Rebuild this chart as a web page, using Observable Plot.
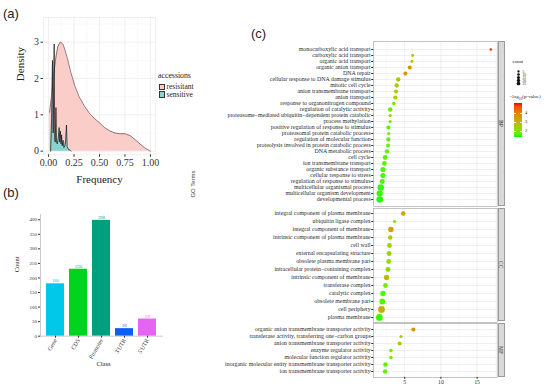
<!DOCTYPE html>
<html><head><meta charset="utf-8">
<script src="https://cdn.jsdelivr.net/npm/d3@7"></script>
<script src="https://cdn.jsdelivr.net/npm/@observablehq/plot@0.6"></script>
<style>
body{margin:0;background:#fff;}
#fig{position:relative;width:550px;height:387px;overflow:hidden;font-family:"Liberation Serif",serif;color:#333;}
#fig svg text{font-family:"Liberation Serif",serif;}
.abs{position:absolute;}
.plab{position:absolute;font-family:"Liberation Sans",Arial,sans-serif;font-size:13px;color:#222;line-height:1;}
.strip{position:absolute;background:#d9d9d9;border:0.6px solid #9a9a9a;box-sizing:border-box;display:flex;align-items:center;justify-content:center;}
.strip span{writing-mode:vertical-rl;font-size:5.5px;color:#222;font-family:"Liberation Serif",serif;}
</style></head><body><div id="fig"></div>
<script>
// ---------- Panel (a) data ----------
const freqResistant = [0.01,0.03,0.05,0.07,0.09,0.11,0.12,0.14,0.16,0.19,0.22,0.26,0.30,0.35,0.40,0.45,0.50,0.55,0.60,0.65,0.70,0.75,0.80,0.85,0.90,0.95,1.00];
const densResistant = [1.07,1.55,2.1,2.55,2.87,2.99,3.0,2.95,2.8,2.5,2.15,1.78,1.5,1.25,1.05,0.9,0.78,0.65,0.56,0.5,0.48,0.48,0.43,0.32,0.19,0.08,0.0];
const freqSensitive = [0.020,0.030,0.038,0.045,0.050,0.055,0.060,0.066,0.072,0.078,0.085,0.095,0.104,0.110,0.116,0.122,0.128,0.134,0.142,0.150,0.160,0.168,0.176,0.182,0.195,0.210,0.220];
const densSensitive = [0.00,0.9,2.5,0.5,1.6,2.95,0.3,0.25,1.2,0.25,0.2,0.35,0.65,0.25,0.55,0.2,0.45,0.15,0.3,0.1,0.15,0.3,0.72,0.12,0.05,0.03,0.0];
const accessions = ["resisitant","sensitive"];
const aTicksX = [0,0.25,0.5,0.75,1];
const aTicksY = [0,1,2,3];

// ---------- Panel (b) data ----------
const classes = ["Gene","CDS","Promoter","3'UTR","5'UTR"];
const classCounts = [180,230,398,26,59];
const bTicks = [0,50,100,150,200,250,300,350,400];

// ---------- Panel (c) data ----------
const bpTerms = ["monocarboxylic acid transport","carboxylic acid transport","organic acid transport","organic anion transport","DNA repair","cellular response to DNA damage stimulus","mitotic cell cycle","anion transmembrane transport","anion transport","response to organonitrogen compound","regulation of catalytic activity","proteasome−mediated ubiquitin−dependent protein catabolic","process methylation","positive regulation of response to stimulus","proteasomal protein catabolic process","regulation of molecular function","proteolysis involved in protein catabolic process","DNA metabolic process","cell cycle","ion transmembrane transport","organic substance transport","cellular response to stress","regulation of response to stimulus","multicellular organismal process","multicellular organism development","developmental process"];
const bpX = [16.9,6.1,6.0,5.7,5.1,4.1,3.9,3.8,3.7,3.5,3.0,3.0,3.0,2.75,2.8,2.75,2.7,2.55,2.3,2.2,2.0,2.0,1.9,1.7,1.55,1.55];
const bpLogP = [5.0,2.9,2.9,3.8,3.6,2.8,2.5,2.5,2.6,1.9,1.8,1.9,1.9,1.7,2.0,1.8,1.8,1.7,1.7,1.7,1.6,1.6,1.6,1.5,1.5,1.45];
const bpCount = [3,4,4,8,8,9,9,8,8,6,10,5,5,8,5,9,8,9,11,11,13,13,12,20,19,21];

const ccTerms = ["integral component of plasma membrane","ubiquitin ligase complex","integral component of membrane","intrinsic component of plasma membrane","cell wall","external encapsulating structure","obsolete plasma membrane part","intracellular protein−containing complex","intrinsic component of membrane","transferase complex","catalytic complex","obsolete membrane part","cell periphery","plasma membrane"];
const ccX = [4.8,3.6,3.1,3.0,2.9,2.85,2.8,2.7,2.5,2.35,2.0,1.9,1.8,1.5];
const ccLogP = [3.4,2.0,3.5,2.6,2.4,2.4,2.3,2.2,2.8,1.9,1.6,1.6,3.2,1.5];
const ccCount = [10,5,14,10,11,11,11,12,14,11,14,16,22,22];

const mfTerms = ["organic anion transmembrane transporter activity","transferase activity, transferring one−carbon groups","anion transmembrane transporter activity","enzyme regulator activity","molecular function regulator activity","inorganic molecular entity transmembrane transporter activity","ion transmembrane transporter activity"];
const mfX = [6.2,4.5,4.3,3.1,3.1,2.35,2.3];
const mfLogP = [3.8,2.4,2.8,1.9,1.9,1.7,1.7];
const mfCount = [8,5,8,6,6,10,10];

const cTicks = [5,10,15];
const cMinor = [2.5,7.5,12.5,17.5];
const legendCounts = [5,10,15,20,25];
const legendLogP = [4,3,2];

// ---------- styles (not data) ----------
const SERIF = "Liberation Serif";
const accColors = ["#fbcdc9","#86d5d1"];
const classColors = ["#00c8e6","#00d41e","#00a07f","#0a60f5","#e466f0"];
const colorDomain = [1.4,5.1];

const fig = document.getElementById("fig");
function place(el, left, top){ const d=document.createElement("div"); d.className="abs"; d.style.left=left+"px"; d.style.top=top+"px"; d.appendChild(el); fig.appendChild(d); return d; }
function html(str, left, top, css){ const d=document.createElement("div"); d.className="abs"; d.style.left=left+"px"; d.style.top=top+"px"; d.style.lineHeight="1"; d.style.whiteSpace="nowrap"; if(css) d.style.cssText+=css; d.innerHTML=str; fig.appendChild(d); return d; }

// ---------- Panel (a) ----------
const resData = freqResistant.map((f,i)=>({f, d:densResistant[i]}));
const senData = freqSensitive.map((f,i)=>({f, d:densSensitive[i]}));
const plotA = Plot.plot({
  width:160, height:192, marginLeft:43, marginRight:5, marginTop:17, marginBottom:37.7,
  x:{domain:[-0.05,1.05]}, y:{domain:[-0.1,3.68]},
  style:{fontFamily:SERIF, fontSize:"10px", color:"#333", background:"transparent", overflow:"visible"},
  marks:[
    Plot.ruleX([0.125,0.375,0.625,0.875],{stroke:"#f3f3f3", strokeWidth:0.5}),
    Plot.ruleY([0.5,1.5,2.5,3.5],{stroke:"#f3f3f3", strokeWidth:0.5}),
    Plot.ruleX(aTicksX,{stroke:"#ebebeb", strokeWidth:0.8}),
    Plot.ruleY(aTicksY,{stroke:"#ebebeb", strokeWidth:0.8}),
    Plot.areaY(resData,{x:"f", y:"d", fill:accColors[0]}),
    Plot.lineY(resData,{x:"f", y:"d", stroke:"#5b4c4c", strokeWidth:0.7}),
    Plot.areaY(senData,{x:"f", y:"d", fill:accColors[1]}),
    Plot.lineY(senData,{x:"f", y:"d", stroke:"#111", strokeWidth:0.7}),
    Plot.frame({stroke:"#e4e4e4", strokeWidth:0.6}),
    Plot.axisX(aTicksX,{tickFormat:d3.format(".2f"), tickSize:2.5, tickPadding:2, label:null, fontFamily:SERIF}),
    Plot.axisY(aTicksY,{tickSize:2.5, tickPadding:2, label:null, fontFamily:SERIF}),
    Plot.text(["Frequency"],{frameAnchor:"bottom", dy:28, fontSize:11, fill:"#222", fontFamily:SERIF}),
    Plot.text(["Density"],{frameAnchor:"left", rotate:-90, dx:-23, dy:-5, fontSize:11, fill:"#222", fontFamily:SERIF})
  ]
});
place(plotA, 0, 0);

// legend (a)
html("accessions", 158, 72, "font-size:7.8px;color:#222;");
accessions.forEach((a,i)=>{
  html("", 158.5, 83.5+i*7.8, `width:6.5px;height:6.5px;background:${accColors[i]};border:0.7px solid #333;box-sizing:border-box;`);
  html(a, 166.5, 83.3+i*7.8, "font-size:7.5px;color:#222;");
});

// ---------- Panel (b) ----------
const bData = classes.map((c,i)=>({cls:c, n:classCounts[i]}));
const plotB = Plot.plot({
  width:170, height:180, marginLeft:40, marginRight:8, marginTop:14, marginBottom:44.3,
  x:{domain:classes, paddingInner:0.2, paddingOuter:0.24},
  y:{domain:[0,418]},
  color:{domain:classes, range:classColors},
  style:{fontFamily:SERIF, fontSize:"5px", color:"#333", background:"transparent", overflow:"visible"},
  marks:[
    Plot.barY(bData,{x:"cls", y:"n", fill:"cls"}),
    Plot.text(bData,{x:"cls", y:"n", text:"n", fill:"cls", dy:-3, fontSize:4.8, fontFamily:SERIF}),
    Plot.frame({anchor:"left", stroke:"#b5b5b5", strokeWidth:0.7}),
    Plot.frame({anchor:"bottom", stroke:"#b5b5b5", strokeWidth:0.7}),
    Plot.axisY(bTicks,{tickSize:2, tickPadding:1.5, label:null, fontSize:5, fontFamily:SERIF}),
    Plot.axisX({tickRotate:-60, tickSize:2, tickPadding:1, label:null, fontSize:6, fontFamily:SERIF}),
    Plot.text(["Count"],{frameAnchor:"left", rotate:-90, dx:-24, dy:-3, fontSize:6.5, fill:"#222", fontFamily:SERIF}),
    Plot.text(["Class"],{frameAnchor:"bottom", dy:29.3, dx:2, fontSize:6.5, fill:"#222", fontFamily:SERIF})
  ]
});
place(plotB, 0, 200);

// ---------- Panel (c) ----------
function goFacet(terms, xs, lps, cnts, frameTop, frameBottom, showX, stripLabel){
  const mt = 2, mb = showX ? 11 : 2;
  const data = terms.map((t,i)=>({term:t, x:xs[i], lp:lps[i], n:cnts[i]}));
  const svg = Plot.plot({
    width:310, height:frameBottom-frameTop+mt+mb, marginLeft:173.2, marginRight:13.3, marginTop:mt, marginBottom:mb,
    x:{domain:[0.72,17.78], axis:null},
    y:{type:"point", domain:terms, padding:0.6},
    color:{type:"linear", domain:colorDomain, range:["#00ff00","#ff0000"], interpolate:d3.interpolateLab},
    r:{type:"sqrt", domain:[0,25], range:[0,3.6]},
    style:{fontFamily:SERIF, fontSize:"5.9px", color:"#2b2b2b", background:"transparent", overflow:"visible"},
    marks:[
      Plot.ruleX(cMinor,{stroke:"#f1f1f1", strokeWidth:0.4}),
      Plot.ruleX(cTicks,{stroke:"#e6e6e6", strokeWidth:0.6}),
      Plot.ruleY(terms,{y:d=>d, stroke:"#e6e6e6", strokeWidth:0.6}),
      Plot.dot(data,{x:"x", y:"term", r:"n", fill:"lp"}),
      Plot.frame({stroke:"#9a9a9a", strokeWidth:0.6}),
      Plot.axisY({tickSize:2, tickPadding:1, label:null, fontFamily:SERIF}),
      showX ? Plot.axisX(cTicks,{tickSize:2, tickPadding:1, label:null, fontSize:5.8, fontFamily:SERIF}) : null
    ]
  });
  place(svg, 200, frameTop-mt);
  const s = document.createElement("div");
  s.className = "strip";
  s.style.left = "497.8px"; s.style.top = frameTop+"px";
  s.style.width = "7.2px"; s.style.height = (frameBottom-frameTop)+"px";
  s.innerHTML = `<span>${stripLabel}</span>`;
  fig.appendChild(s);
}
goFacet(bpTerms, bpX, bpLogP, bpCount, 40.5, 205.5, false, "BP");
goFacet(ccTerms, ccX, ccLogP, ccCount, 207.5, 321.3, false, "CC");
goFacet(mfTerms, mfX, mfLogP, mfCount, 323, 376.8, true, "MF");

// legends (c)
html("count", 512.5, 59.5, "font-size:4.8px;color:#222;");
const cntLegend = Plot.plot({
  width:24, height:22, margin:0, marginTop:2, marginBottom:2, marginLeft:4, marginRight:12,
  x:{axis:null, domain:[0,1]},
  y:{type:"point", domain:legendCounts, axis:null},
  r:{type:"sqrt", domain:[0,25], range:[0,1.6]},
  style:{fontFamily:SERIF, fontSize:"3.6px", color:"#333", background:"transparent", overflow:"visible"},
  marks:[
    Plot.dot(legendCounts,{x:()=>0.5, y:d=>d, r:d=>d+8, fill:"#111"}),
    Plot.text(legendCounts,{x:()=>0.5, y:d=>d, text:d=>String(d), dx:4, textAnchor:"start", fill:"#222", fontFamily:SERIF})
  ]
});
place(cntLegend, 510, 65.5);

html("−log<sub style='font-size:3.6px'>10</sub>(p-value)", 509.5, 93.5, "font-size:5px;color:#222;");
const interp = d3.interpolateLab("#00ff00","#ff0000");
const stops = d3.range(0,1.0001,0.1).map(t=>interp(t)+" "+(t*100)+"%").join(",");
html("", 514, 103.3, `width:8px;height:34px;background:linear-gradient(to top, ${stops});`);
legendLogP.forEach(v=>{
  const y = 103.3 + (colorDomain[1]-v)/(colorDomain[1]-colorDomain[0])*34;
  html("", 514, y-0.3, "width:1.6px;height:0.6px;background:#fff;");
  html("", 520.4, y-0.3, "width:1.6px;height:0.6px;background:#fff;");
  html(String(v), 525, y-2.3, "font-size:4.6px;color:#222;");
});

// titles & panel labels
html("GO Terms", 193, 184, "font-family:'Liberation Sans',sans-serif;font-size:6px;color:#444;transform:translate(-50%,-50%) rotate(-90deg);");
const pa = html("(a)", 3, 7, ""); pa.className="plab";
const pb = html("(b)", 3, 186, ""); pb.className="plab";
const pc = html("(c)", 251, 27, ""); pc.className="plab";
</script></body></html>
